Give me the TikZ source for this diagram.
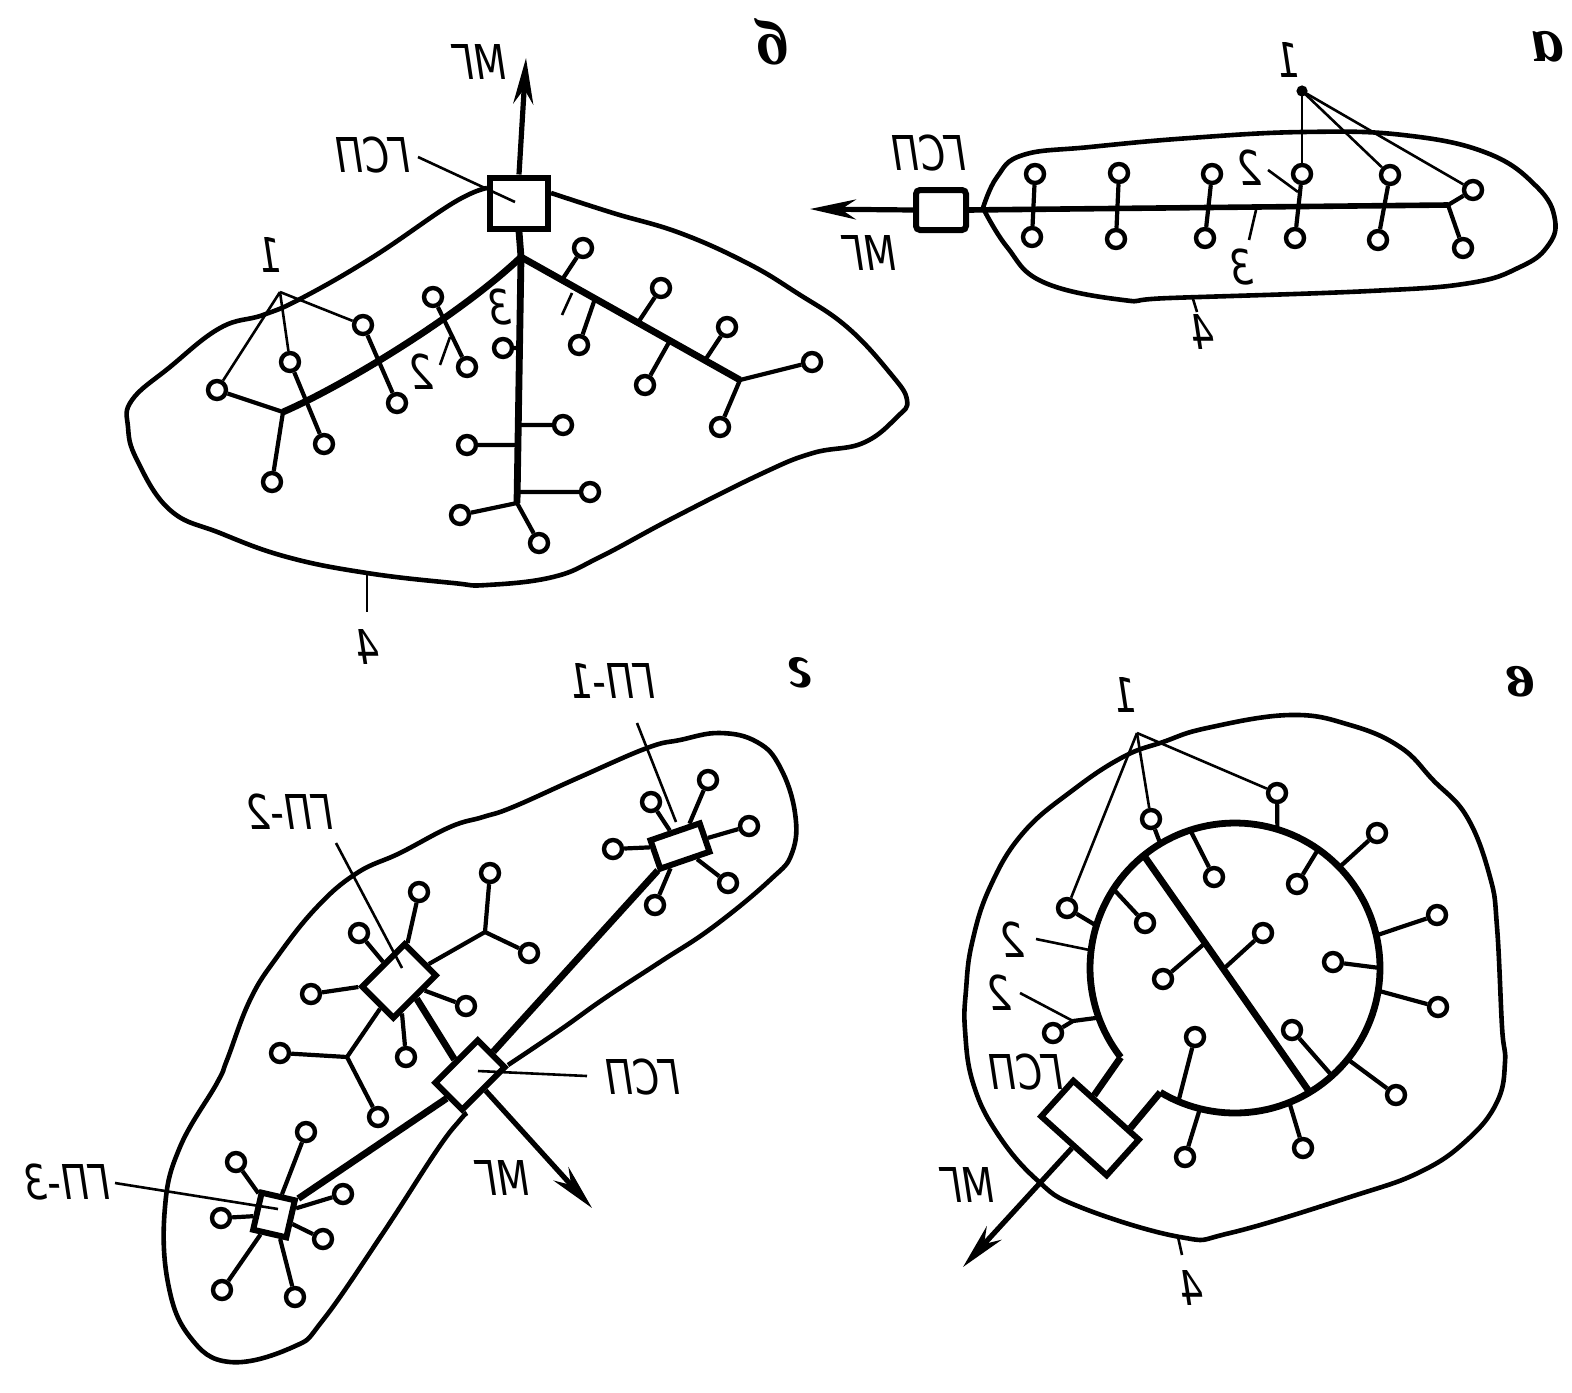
\documentclass[tikz,border=0pt]{standalone}
\usepackage{fontspec}
\setmainfont{DejaVu Sans}
\newfontfamily\pfont{Liberation Serif}
\usepackage{graphicx}
\usetikzlibrary{arrows.meta,calc}
\newcommand{\mt}[1]{\scalebox{-0.78}[1]{\itshape #1}}
\newcommand{\mpan}[1]{\reflectbox{\pfont\bfseries\itshape #1}}
\tikzset{
  ldr/.style={line width=1.3pt},
  med/.style={line width=2.1pt},
  bnd/.style={line width=2.3pt, line join=round},
  thk/.style={line width=3.4pt},
  cn/.style={circle, draw, line width=2.2pt, fill=white, inner sep=0pt, minimum size=9pt},
  bx/.style={rectangle, draw, line width=3pt, fill=white, inner sep=0pt},
  lbl/.style={inner sep=0pt, font=\fontsize{24}{28}\selectfont},
  plbl/.style={inner sep=0pt, font=\fontsize{32}{36}\selectfont},
  arr/.style={line width=2.6pt, -{Stealth[length=23pt,width=10pt]}}
}
\begin{document}
\begin{tikzpicture}[x=0.5pt,y=-0.5pt]
\useasboundingbox (0,0) rectangle (1572,1392);

% ================= Panel a =================
\draw[bnd] plot[smooth, tension=0.7] coordinates {(983,208) (997,177) (1023,155) (1090,147) (1190,138) (1303,132) (1403,135) (1487,153) (1537,187) (1555,220) (1547,247) (1520,267) (1470,283) (1370,291) (1170,298) (1123,300) (1043,282) (1007,247) (983,208)};
\node[bx, minimum width=25pt, minimum height=20pt, rounded corners=2pt] (Ga) at (941,210) {};
\coordinate (atip) at (810,209);
\coordinate (aend) at (1448,205);
\draw[arr] (Ga.west) -- (atip);
\draw[line width=2.8pt] (Ga.east) -- (aend);
\node[cn] (a1t) at (1035,174) {};
\node[cn] (a1b) at (1032,237) {};
\node[cn] (a2t) at (1119,173) {};
\node[cn] (a2b) at (1116,239) {};
\node[cn] (a3t) at (1212,174) {};
\node[cn] (a3b) at (1205,238) {};
\node[cn] (a4t) at (1302,174) {};
\node[cn] (a4b) at (1295,238) {};
\node[cn] (a5t) at (1390,175) {};
\node[cn] (a5b) at (1378,240) {};
\node[cn] (a6t) at (1473,190) {};
\node[cn] (a6b) at (1463,248) {};
\draw[med] (a1t) -- (a1b);
\draw[med] (a2t) -- (a2b);
\draw[med] (a3t) -- (a3b);
\draw[med] (a4t) -- (a4b);
\draw[med] (a5t) -- (a5b);
\draw[med] (aend) -- (a6t);
\draw[med] (aend) -- (a6b);
\coordinate (aap) at (1302,91);
\fill (aap) circle (2.8pt);
\draw[ldr] (aap) -- (a4t);
\draw[ldr] (aap) -- (a5t);
\draw[ldr] (aap) -- (a6t);
\coordinate (a2s) at (1268,170); \coordinate (a2e) at (1298,192);
\draw[ldr] (a2s) -- (a2e);
\coordinate (a3s) at (1249,240); \coordinate (a3e) at (1256,210);
\draw[ldr] (a3s) -- (a3e);
\coordinate (a4s) at (1193,299); \coordinate (a4e) at (1197,312);
\draw[ldr] (a4s) -- (a4e);
\node[lbl] (la1) at (1288,60) {\mt{1}};
\node[lbl] (la2) at (1250,168) {\mt{2}};
\node[lbl] (la3) at (1242,267) {\mt{3}};
\node[lbl] (la4) at (1203,332) {\mt{4}};
\node[lbl] (laG) at (929,153) {\mt{ГСП}};
\node[lbl] (laM) at (870,253) {\mt{МГ}};
\node[plbl] (lpa) at (1547,47) {\mpan{а}};

% ================= Panel b =================
\draw[bnd] plot[smooth, tension=0.7] coordinates {(487,188) (453,203) (373,257) (302,298) (263,315) (220,328) (170,367) (132,400) (128,427) (137,460) (170,510) (220,533) (287,557) (367,573) (453,583) (487,585) (553,577) (600,557) (673,518) (763,473) (813,453) (863,443) (897,417) (907,400) (890,373) (847,327) (797,293) (747,263) (680,233) (613,213) (551,193)};
\node[bx, minimum width=29pt, minimum height=25.5pt] (Gb) at (519,203) {};
\coordinate (btip) at (526,58);
\draw[arr] (Gb.north) -- (btip);
\coordinate (jb0) at (521,257);
\coordinate (jb1) at (517,503);
\coordinate (jbL) at (283,412);
\coordinate (jbR) at (740,380);
\draw[thk] (Gb.south) -- (jb0) -- (jb1);
\draw[thk] (jb0) .. controls (460,315) and (345,385) .. (jbL);
\draw[thk] (jb0) -- (jbR);
\node[cn] (bL1) at (217,390) {};
\node[cn] (bL2) at (272,482) {};
\node[cn] (bL3) at (290,362) {};
\node[cn] (bL4) at (324,444) {};
\node[cn] (bL5) at (363,325) {};
\node[cn] (bL6) at (397,403) {};
\node[cn] (bL7) at (433,297) {};
\node[cn] (bL8) at (467,367) {};
\node[cn] (bT1) at (503,348) {};
\node[cn] (bT2) at (563,425) {};
\node[cn] (bT3) at (467,445) {};
\node[cn] (bT4) at (590,492) {};
\node[cn] (bT5) at (460,515) {};
\node[cn] (bT6) at (539,543) {};
\node[cn] (bR1) at (583,248) {};
\node[cn] (bR2) at (579,345) {};
\node[cn] (bR3) at (661,288) {};
\node[cn] (bR4) at (645,385) {};
\node[cn] (bR5) at (727,327) {};
\node[cn] (bR6) at (812,362) {};
\node[cn] (bR7) at (720,427) {};
\draw[med] (jbL) -- (bL1);
\draw[med] (jbL) -- (bL2);
\draw[med] (bL3) -- (bL4);
\draw[med] (bL5) -- (bL6);
\draw[med] (bL7) -- (bL8);
\coordinate (bt1) at ($(jb0)!0.37!(jb1)$);
\coordinate (bt2) at ($(jb0)!0.683!(jb1)$);
\coordinate (bt3) at ($(jb0)!0.764!(jb1)$);
\coordinate (bt4) at ($(jb0)!0.955!(jb1)$);
\draw[med] (bT1) -- (bt1);
\draw[med] (bT2) -- (bt2);
\draw[med] (bT3) -- (bt3);
\draw[med] (bT4) -- (bt4);
\draw[med] (jb1) -- (bT5);
\draw[med] (jb1) -- (bT6);
\coordinate (br1) at ($(jb0)!0.187!(jbR)$);
\coordinate (br2) at ($(jb0)!0.338!(jbR)$);
\coordinate (br3) at ($(jb0)!0.534!(jbR)$);
\coordinate (br4) at ($(jb0)!0.680!(jbR)$);
\coordinate (br5) at ($(jb0)!0.840!(jbR)$);
\draw[med] (bR1) -- (br1);
\draw[med] (bR2) -- (br2);
\draw[med] (bR3) -- (br3);
\draw[med] (bR4) -- (br4);
\draw[med] (bR5) -- (br5);
\draw[med] (jbR) -- (bR6);
\draw[med] (jbR) -- (bR7);
\coordinate (bap) at (280,292);
\draw[ldr] (bap) -- (bL1);
\draw[ldr] (bap) -- (bL3);
\draw[ldr] (bap) -- (bL5);
\coordinate (bgs) at (418,157); \coordinate (bge) at (515,202);
\draw[ldr] (bgs) -- (bge);
\coordinate (b2s) at (440,365); \coordinate (b2e) at (450,337);
\draw[ldr] (b2s) -- (b2e);
\coordinate (b3s) at (562,315); \coordinate (b3e) at (572,293);
\draw[ldr] (b3s) -- (b3e);
\coordinate (b4s) at (367,573); \coordinate (b4e) at (367,612);
\draw[ldr] (b4s) -- (b4e);
\node[lbl] (lb1) at (270,255) {\mt{1}};
\node[lbl] (lb2) at (422,372) {\mt{2}};
\node[lbl] (lb3) at (500,307) {\mt{3}};
\node[lbl] (lb4) at (368,647) {\mt{4}};
\node[lbl] (lbG) at (373,155) {\mt{ГСП}};
\node[lbl] (lbM) at (480,62) {\mt{МГ}};
\node[plbl] (lpb) at (773,42) {\mpan{б}};

% ================= Panel g =================
\draw[bnd] plot[smooth, tension=0.7] coordinates {(508,1065) (560,1030) (605,998) (660,962) (713,927) (770,880) (792,853) (795,813) (780,767) (757,742) (720,733) (680,740) (647,748) (580,777) (513,807) (483,817) (450,827) (400,853) (357,873) (317,907) (277,957) (250,1000) (227,1060) (217,1083) (180,1147) (165,1207) (168,1283) (190,1337) (230,1362) (293,1347) (323,1320) (383,1233) (437,1150) (460,1120) (467,1113)};
\node[bx, minimum width=22pt, minimum height=30pt, rotate=-45] (GP2) at (399,981) {};
\node[bx, minimum width=19pt, minimum height=30pt, rotate=-45] (Gg) at (470,1075) {};
\node[bx, minimum width=26pt, minimum height=15pt, rotate=19] (GP1) at (680,846) {};
\node[bx, minimum width=17pt, minimum height=19pt, rotate=-13] (GP3) at (274,1215) {};
\draw[thk] (GP2.east) -- (Gg.west);
\draw[thk] (Gg.north) -- (GP1);
\draw[thk] (Gg.south) -- (GP3);
\coordinate (gtip) at (592,1208);
\draw[arr] (Gg.east) -- (gtip);
% GP-2 group
\node[cn] (g21) at (359,933) {};
\node[cn] (g22) at (419,892) {};
\node[cn] (g23) at (311,994) {};
\node[cn] (g24) at (466,1006) {};
\node[cn] (g25) at (406,1057) {};
\node[cn] (g26) at (280,1053) {};
\node[cn] (g27) at (378,1117) {};
\node[cn] (g28) at (490,873) {};
\node[cn] (g29) at (529,953) {};
\draw[med] (g21) -- (GP2);
\draw[med] (g22) -- (GP2);
\draw[med] (g23) -- (GP2);
\draw[med] (g24) -- (GP2);
\draw[med] (g25) -- (GP2);
\coordinate (jg1) at (347,1057);
\coordinate (jg2) at (485,932);
\draw[med] (jg1) -- (GP2);
\draw[med] (g26) -- (jg1);
\draw[med] (g27) -- (jg1);
\draw[med] (jg2) -- (GP2);
\draw[med] (g28) -- (jg2);
\draw[med] (g29) -- (jg2);
% GP-1 group
\node[cn] (g11) at (651,802) {};
\node[cn] (g12) at (708,780) {};
\node[cn] (g13) at (749,826) {};
\node[cn] (g14) at (613,849) {};
\node[cn] (g15) at (728,883) {};
\node[cn] (g16) at (655,905) {};
\draw[med] (g11) -- (GP1);
\draw[med] (g12) -- (GP1);
\draw[med] (g13) -- (GP1);
\draw[med] (g14) -- (GP1);
\draw[med] (g15) -- (GP1);
\draw[med] (g16) -- (GP1);
% GP-3 group
\node[cn] (g31) at (236,1162) {};
\node[cn] (g32) at (306,1132) {};
\node[cn] (g33) at (343,1194) {};
\node[cn] (g34) at (221,1218) {};
\node[cn] (g35) at (323,1239) {};
\node[cn] (g36) at (222,1290) {};
\node[cn] (g37) at (295,1297) {};
\draw[med] (g31) -- (GP3);
\draw[med] (g32) -- (GP3);
\draw[med] (g33) -- (GP3);
\draw[med] (g34) -- (GP3);
\draw[med] (g35) -- (GP3);
\draw[med] (g36) -- (GP3);
\draw[med] (g37) -- (GP3);
% leaders and labels
\coordinate (gl2s) at (336,843); \coordinate (gl2e) at (402,968);
\draw[ldr] (gl2s) -- (gl2e);
\coordinate (gl1s) at (637,723); \coordinate (gl1e) at (676,822);
\draw[ldr] (gl1s) -- (gl1e);
\coordinate (gl3s) at (115,1183); \coordinate (gl3e) at (278,1209);
\draw[ldr] (gl3s) -- (gl3e);
\coordinate (glGs) at (587,1076); \coordinate (glGe) at (478,1071);
\draw[ldr] (glGs) -- (glGe);
\node[lbl] (lgP2) at (290,812) {\mt{ГП-2}};
\node[lbl] (lgP1) at (612,681) {\mt{ГП-1}};
\node[lbl] (lgP3) at (67,1182) {\mt{ГП-3}};
\node[lbl] (lgG) at (643,1077) {\mt{ГСП}};
\node[lbl] (lgM) at (503,1178) {\mt{МГ}};
\node[plbl] (lpg) at (800,673) {\mpan{г}};

% ================= Panel v =================
\draw[bnd] plot[smooth cycle, tension=0.7] coordinates {(1290,715) (1350,725) (1400,747) (1433,780) (1467,817) (1490,877) (1497,927) (1502,1027) (1505,1062) (1497,1102) (1467,1140) (1420,1172) (1350,1197) (1230,1233) (1180,1237) (1080,1207) (1037,1180) (997,1133) (973,1083) (965,1030) (966,990) (972,943) (990,887) (1023,833) (1073,790) (1123,757) (1163,742) (1207,728)};
\coordinate (vc) at (1235,968);
\draw[thk] plot[domain=142:481, samples=140] ({1235+145*cos(\x)},{968+145*sin(\x)});
\node[bx, minimum width=44pt, minimum height=24pt, rotate=-42] (Gv) at (1090,1128) {};
\coordinate (re1) at ($(vc)+(142:145)$);
\coordinate (re2) at ($(vc)+(121:145)$);
\coordinate (bv1) at ($(Gv.north west)!0.3!(Gv.north east)$);
\coordinate (bv2) at ($(Gv.north west)!0.82!(Gv.north east)$);
\draw[thk] (re1) -- (bv1);
\draw[thk] (re2) -- (bv2);
\coordinate (vtip) at (963,1267);
\draw[arr] (Gv.south) -- (vtip);
\coordinate (ch1) at ($(vc)+(231:145)$);
\coordinate (ch2) at ($(vc)+(59:145)$);
\draw[thk] (ch1) -- (ch2);
% outer circles
\node[cn] (v1) at (1277,793) {};
\node[cn] (v2) at (1151,819) {};
\node[cn] (v3) at (1067,908) {};
\node[cn] (v4) at (1053,1033) {};
\node[cn] (v5) at (1377,833) {};
\node[cn] (v6) at (1437,915) {};
\node[cn] (v7) at (1438,1007) {};
\node[cn] (v8) at (1396,1095) {};
\node[cn] (v9) at (1303,1148) {};
\node[cn] (v10) at (1185,1157) {};
\coordinate (r1) at ($(vc)+(287:145)$);
\coordinate (r2) at ($(vc)+(239:145)$);
\coordinate (r3) at ($(vc)+(197:145)$);
\coordinate (r4) at ($(vc)+(160:145)$);
\coordinate (r5) at ($(vc)+(316:145)$);
\coordinate (r6) at ($(vc)+(347:145)$);
\coordinate (r7) at ($(vc)+(9:145)$);
\coordinate (r8) at ($(vc)+(39:145)$);
\coordinate (r9) at ($(vc)+(68:145)$);
\coordinate (r10) at ($(vc)+(104:145)$);
\coordinate (vk4) at (1073,1021);
\draw[med] (v1) -- (r1);
\draw[med] (v2) -- (r2);
\draw[med] (v3) -- (r3);
\draw[med] (v4) -- (vk4) -- (r4);
\draw[med] (v5) -- (r5);
\draw[med] (v6) -- (r6);
\draw[med] (v7) -- (r7);
\draw[med] (v8) -- (r8);
\draw[med] (v9) -- (r9);
\draw[med] (v10) -- (r10);
% inner circles
\node[cn] (i1) at (1214,877) {};
\node[cn] (i2) at (1297,884) {};
\node[cn] (i3) at (1145,923) {};
\node[cn] (i4) at (1333,962) {};
\node[cn] (i5) at (1292,1030) {};
\node[cn] (i6) at (1195,1037) {};
\coordinate (s1) at ($(vc)+(252:145)$);
\coordinate (s2) at ($(vc)+(305:145)$);
\coordinate (s3) at ($(vc)+(213:145)$);
\coordinate (s4) at ($(vc)+(0:145)$);
\coordinate (s5) at ($(vc)+(48:145)$);
\coordinate (s6) at ($(vc)+(113:145)$);
\draw[med] (i1) -- (s1);
\draw[med] (i2) -- (s2);
\draw[med] (i3) -- (s3);
\draw[med] (i4) -- (s4);
\draw[med] (i5) -- (s5);
\draw[med] (i6) -- (s6);
\node[cn] (c1) at (1163,979) {};
\node[cn] (c2) at (1263,933) {};
\coordinate (cp1) at ($(ch1)!0.37!(ch2)$);
\coordinate (cp2) at ($(ch1)!0.48!(ch2)$);
\draw[med] (c1) -- (cp1);
\draw[med] (c2) -- (cp2);
% leaders and labels
\coordinate (vap) at (1137,733);
\draw[ldr] (vap) -- (v1);
\draw[ldr] (vap) -- (v2);
\draw[ldr] (vap) -- (v3);
\coordinate (v2as) at (1036,939);
\coordinate (v2ae) at ($(vc)+(187:145)$);
\draw[ldr] (v2as) -- (v2ae);
\coordinate (v2bs) at (1020,993);
\draw[ldr] (v2bs) -- (vk4);
\coordinate (v4s) at (1178,1237); \coordinate (v4e) at (1182,1255);
\draw[ldr] (v4s) -- (v4e);
\node[lbl] (lv1) at (1125,695) {\mt{1}};
\node[lbl] (lv2a) at (1013,940) {\mt{2}};
\node[lbl] (lv2b) at (1000,993) {\mt{2}};
\node[lbl] (lv4) at (1192,1288) {\mt{4}};
\node[lbl] (lvG) at (1026,1072) {\mt{ГСП}};
\node[lbl] (lvM) at (968,1185) {\mt{МГ}};
\node[plbl] (lpv) at (1520,682) {\mpan{в}};
\end{tikzpicture}
\end{document}
